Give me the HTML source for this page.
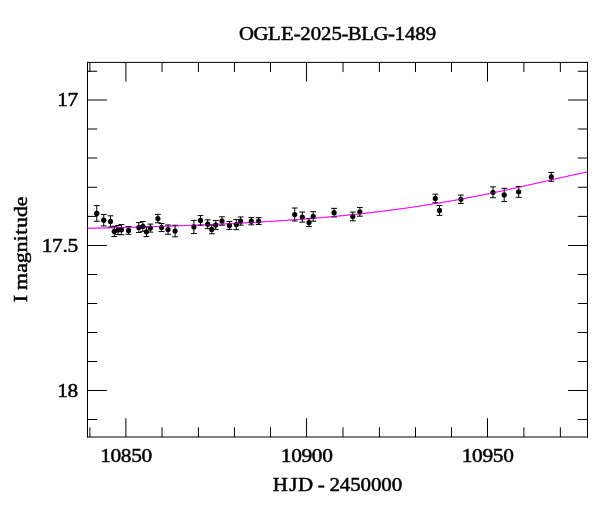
<!DOCTYPE html>
<html lang="en"><head><meta charset="utf-8"><title>OGLE-2025-BLG-1489</title>
<style>html,body{margin:0;padding:0;background:#fff}body{width:600px;height:512px;overflow:hidden}svg{display:block}text{font-family:"Liberation Serif", serif;font-size:19.6px;fill:#000;stroke:#000;stroke-width:0.5px}</style></head><body>
<svg width="600" height="512" viewBox="0 0 600 512">
<rect width="600" height="512" fill="#fff"/>
<path d="M89.9,62.4V72.1M89.9,437.0V427.3M125.9,62.4V81.6M125.9,437.0V418.2M162.05,62.4V72.1M162.05,437.0V427.3M198.45,62.4V72.1M198.45,437.0V427.3M234.45,62.4V72.1M234.45,437.0V427.3M270.5,62.4V72.1M270.5,437.0V427.3M306.55,62.4V81.6M306.55,437.0V418.2M343.0,62.4V72.1M343.0,437.0V427.3M379.4,62.4V72.1M379.4,437.0V427.3M415.5,62.4V72.1M415.5,437.0V427.3M451.5,62.4V72.1M451.5,437.0V427.3M487.5,62.4V81.6M487.5,437.0V418.2M523.9,62.4V72.1M523.9,437.0V427.3M560.35,62.4V72.1M560.35,437.0V427.3M87.5,71.25h9.7M587.5,71.25h-9.7M87.5,100.0h19.4M587.5,100.0h-19.4M87.5,129.0h9.7M587.5,129.0h-9.7M87.5,158.0h9.7M587.5,158.0h-9.7M87.5,187.25h9.7M587.5,187.25h-9.7M87.5,216.4h9.7M587.5,216.4h-9.7M87.5,245.5h19.4M587.5,245.5h-19.4M87.5,274.5h9.7M587.5,274.5h-9.7M87.5,303.5h9.7M587.5,303.5h-9.7M87.5,332.5h9.7M587.5,332.5h-9.7M87.5,361.5h9.7M587.5,361.5h-9.7M87.5,390.5h19.4M587.5,390.5h-19.4M87.5,419.5h9.7M587.5,419.5h-9.7" fill="none" stroke="#000" stroke-width="1.0"/>
<path d="M87.5,437.5V61.9M587.5,437.5V61.9M87.0,62.4H588.0M87.0,437.0H588.0" fill="none" stroke="#000" stroke-width="1"/>
<path d="M87.5,228.32 L92.5,228.21 L97.5,228.11 L102.5,227.99 L107.5,227.88 L112.5,227.76 L117.5,227.64 L122.5,227.51 L127.5,227.38 L132.5,227.25 L137.5,227.11 L142.5,226.97 L147.5,226.82 L152.5,226.67 L157.5,226.52 L162.5,226.36 L167.5,226.19 L172.5,226.02 L177.5,225.84 L182.5,225.66 L187.5,225.48 L192.5,225.29 L197.5,225.09 L202.5,224.88 L207.5,224.67 L212.5,224.46 L217.5,224.23 L222.5,224.00 L227.5,223.76 L232.5,223.52 L237.5,223.26 L242.5,223.00 L247.5,222.73 L252.5,222.45 L257.5,222.17 L262.5,221.87 L267.5,221.57 L272.5,221.25 L277.5,220.93 L282.5,220.59 L287.5,220.25 L292.5,219.89 L297.5,219.52 L302.5,219.14 L307.5,218.75 L312.5,218.35 L317.5,217.93 L322.5,217.50 L327.5,217.06 L332.5,216.61 L337.5,216.14 L342.5,215.65 L347.5,215.15 L352.5,214.64 L357.5,214.11 L362.5,213.56 L367.5,213.00 L372.5,212.42 L377.5,211.83 L382.5,211.22 L387.5,210.59 L392.5,209.94 L397.5,209.27 L402.5,208.59 L407.5,207.88 L412.5,207.16 L417.5,206.42 L422.5,205.66 L427.5,204.87 L432.5,204.07 L437.5,203.25 L442.5,202.41 L447.5,201.55 L452.5,200.67 L457.5,199.77 L462.5,198.85 L467.5,197.91 L472.5,196.95 L477.5,195.97 L482.5,194.97 L487.5,193.96 L492.5,192.93 L497.5,191.88 L502.5,190.82 L507.5,189.74 L512.5,188.65 L517.5,187.55 L522.5,186.43 L527.5,185.31 L532.5,184.18 L537.5,183.05 L542.5,181.91 L547.5,180.77 L552.5,179.63 L557.5,178.49 L562.5,177.36 L567.5,176.23 L572.5,175.12 L577.5,174.02 L582.5,172.94 L587.5,171.88" fill="none" stroke="#ff00ff" stroke-width="1"/>
<path d="M96.75,205.57V221.28M93.85,205.57h5.8M93.85,221.28h5.8M103.75,214.43V225.93M100.85,214.43h5.8M100.85,225.93h5.8M110.50,215.81V227.06M107.60,215.81h5.8M107.60,227.06h5.8M114.25,226.31V236.56M111.35,226.31h5.8M111.35,236.56h5.8M118.00,225.50V234.50M115.10,225.50h5.8M115.10,234.50h5.8M121.40,224.55V234.75M118.50,224.55h5.8M118.50,234.75h5.8M128.55,226.57V234.28M125.65,226.57h5.8M125.65,234.28h5.8M138.80,222.55V232.45M135.90,222.55h5.8M135.90,232.45h5.8M142.90,221.50V231.30M140.00,221.50h5.8M140.00,231.30h5.8M146.40,226.95V236.55M143.50,226.95h5.8M143.50,236.55h5.8M150.40,224.10V232.10M147.50,224.10h5.8M147.50,232.10h5.8M157.90,214.35V222.75M155.00,214.35h5.8M155.00,222.75h5.8M161.55,223.55V231.55M158.65,223.55h5.8M158.65,231.55h5.8M168.00,224.97V234.28M165.10,224.97h5.8M165.10,234.28h5.8M175.10,225.25V236.85M172.20,225.25h5.8M172.20,236.85h5.8M193.90,220.35V233.55M191.00,220.35h5.8M191.00,233.55h5.8M200.50,215.58V225.28M197.60,215.58h5.8M197.60,225.28h5.8M207.70,219.80V228.60M204.80,219.80h5.8M204.80,228.60h5.8M211.80,225.00V233.80M208.90,225.00h5.8M208.90,233.80h5.8M215.75,220.55V229.55M212.85,220.55h5.8M212.85,229.55h5.8M222.00,216.80V225.20M219.10,216.80h5.8M219.10,225.20h5.8M229.40,221.48V229.38M226.50,221.48h5.8M226.50,229.38h5.8M236.30,219.45V229.65M233.40,219.45h5.8M233.40,229.65h5.8M240.60,216.95V225.15M237.70,216.95h5.8M237.70,225.15h5.8M251.30,217.53V224.83M248.40,217.53h5.8M248.40,224.83h5.8M258.65,217.62V224.52M255.75,217.62h5.8M255.75,224.52h5.8M294.70,208.00V221.00M291.80,208.00h5.8M291.80,221.00h5.8M302.30,212.02V222.12M299.40,212.02h5.8M299.40,222.12h5.8M309.00,218.60V226.60M306.10,218.60h5.8M306.10,226.60h5.8M313.20,211.72V221.22M310.30,211.72h5.8M310.30,221.22h5.8M334.10,208.35V216.95M331.20,208.35h5.8M331.20,216.95h5.8M352.80,212.08V220.78M349.90,212.08h5.8M349.90,220.78h5.8M359.90,207.40V216.20M357.00,207.40h5.8M357.00,216.20h5.8M435.30,194.15V202.75M432.40,194.15h5.8M432.40,202.75h5.8M439.50,205.45V215.35M436.60,205.45h5.8M436.60,215.35h5.8M460.90,195.05V203.45M458.00,195.05h5.8M458.00,203.45h5.8M493.00,186.83V197.72M490.10,186.83h5.8M490.10,197.72h5.8M504.20,188.35V201.55M501.30,188.35h5.8M501.30,201.55h5.8M518.65,186.40V197.30M515.75,186.40h5.8M515.75,197.30h5.8M551.30,172.50V181.30M548.40,172.50h5.8M548.40,181.30h5.8" fill="none" stroke="#000" stroke-width="1"/>
<circle cx="96.75" cy="213.43" r="2.6" fill="#000"/>
<circle cx="103.75" cy="220.18" r="2.6" fill="#000"/>
<circle cx="110.50" cy="221.44" r="2.6" fill="#000"/>
<circle cx="114.25" cy="231.44" r="2.6" fill="#000"/>
<circle cx="118.00" cy="230.00" r="2.6" fill="#000"/>
<circle cx="121.40" cy="229.65" r="2.6" fill="#000"/>
<circle cx="128.55" cy="230.43" r="2.6" fill="#000"/>
<circle cx="138.80" cy="227.50" r="2.6" fill="#000"/>
<circle cx="142.90" cy="226.40" r="2.6" fill="#000"/>
<circle cx="146.40" cy="231.75" r="2.6" fill="#000"/>
<circle cx="150.40" cy="228.10" r="2.6" fill="#000"/>
<circle cx="157.90" cy="218.55" r="2.6" fill="#000"/>
<circle cx="161.55" cy="227.55" r="2.6" fill="#000"/>
<circle cx="168.00" cy="229.62" r="2.6" fill="#000"/>
<circle cx="175.10" cy="231.05" r="2.6" fill="#000"/>
<circle cx="193.90" cy="226.95" r="2.6" fill="#000"/>
<circle cx="200.50" cy="220.43" r="2.6" fill="#000"/>
<circle cx="207.70" cy="224.20" r="2.6" fill="#000"/>
<circle cx="211.80" cy="229.40" r="2.6" fill="#000"/>
<circle cx="215.75" cy="225.05" r="2.6" fill="#000"/>
<circle cx="222.00" cy="221.00" r="2.6" fill="#000"/>
<circle cx="229.40" cy="225.43" r="2.6" fill="#000"/>
<circle cx="236.30" cy="224.55" r="2.6" fill="#000"/>
<circle cx="240.60" cy="221.05" r="2.6" fill="#000"/>
<circle cx="251.30" cy="221.18" r="2.6" fill="#000"/>
<circle cx="258.65" cy="221.07" r="2.6" fill="#000"/>
<circle cx="294.70" cy="214.50" r="2.6" fill="#000"/>
<circle cx="302.30" cy="217.07" r="2.6" fill="#000"/>
<circle cx="309.00" cy="222.60" r="2.6" fill="#000"/>
<circle cx="313.20" cy="216.47" r="2.6" fill="#000"/>
<circle cx="334.10" cy="212.65" r="2.6" fill="#000"/>
<circle cx="352.80" cy="216.43" r="2.6" fill="#000"/>
<circle cx="359.90" cy="211.80" r="2.6" fill="#000"/>
<circle cx="435.30" cy="198.45" r="2.6" fill="#000"/>
<circle cx="439.50" cy="210.40" r="2.6" fill="#000"/>
<circle cx="460.90" cy="199.25" r="2.6" fill="#000"/>
<circle cx="493.00" cy="192.28" r="2.6" fill="#000"/>
<circle cx="504.20" cy="194.95" r="2.6" fill="#000"/>
<circle cx="518.65" cy="191.85" r="2.6" fill="#000"/>
<circle cx="551.30" cy="176.90" r="2.6" fill="#000"/>
<path d="M87.5,228.32 L92.5,228.21 L97.5,228.11 L102.5,227.99 L107.5,227.88 L112.5,227.76 L117.5,227.64 L122.5,227.51 L127.5,227.38 L132.5,227.25 L137.5,227.11 L142.5,226.97 L147.5,226.82 L152.5,226.67 L157.5,226.52 L162.5,226.36 L167.5,226.19 L172.5,226.02 L177.5,225.84 L182.5,225.66 L187.5,225.48 L192.5,225.29 L197.5,225.09 L202.5,224.88 L207.5,224.67 L212.5,224.46 L217.5,224.23 L222.5,224.00 L227.5,223.76 L232.5,223.52 L237.5,223.26 L242.5,223.00 L247.5,222.73 L252.5,222.45 L257.5,222.17 L262.5,221.87 L267.5,221.57 L272.5,221.25 L277.5,220.93 L282.5,220.59 L287.5,220.25 L292.5,219.89 L297.5,219.52 L302.5,219.14 L307.5,218.75 L312.5,218.35 L317.5,217.93 L322.5,217.50 L327.5,217.06 L332.5,216.61 L337.5,216.14 L342.5,215.65 L347.5,215.15 L352.5,214.64 L357.5,214.11 L362.5,213.56 L367.5,213.00 L372.5,212.42 L377.5,211.83 L382.5,211.22 L387.5,210.59 L392.5,209.94 L397.5,209.27 L402.5,208.59 L407.5,207.88 L412.5,207.16 L417.5,206.42 L422.5,205.66 L427.5,204.87 L432.5,204.07 L437.5,203.25 L442.5,202.41 L447.5,201.55 L452.5,200.67 L457.5,199.77 L462.5,198.85 L467.5,197.91 L472.5,196.95 L477.5,195.97 L482.5,194.97 L487.5,193.96 L492.5,192.93 L497.5,191.88 L502.5,190.82 L507.5,189.74 L512.5,188.65 L517.5,187.55 L522.5,186.43 L527.5,185.31 L532.5,184.18 L537.5,183.05 L542.5,181.91 L547.5,180.77 L552.5,179.63 L557.5,178.49 L562.5,177.36 L567.5,176.23 L572.5,175.12 L577.5,174.02 L582.5,172.94 L587.5,171.88" fill="none" stroke="#ff00ff" stroke-width="1" opacity="0.4"/>
<text transform="translate(337.60,40.45) scale(1.06,1)" x="-93.12 -79.43 -65.63 -53.41 -41.41 -35.22 -25.44 -15.66 -5.88 3.58 9.59 22.36 33.98 47.57 53.75 63.53 73.32 83.10" y="0">OGLE-2025-BLG-1489</text>
<text transform="translate(78.10,106.40) scale(1.09,1)" x="-19.17 -9.66" y="0">17</text>
<text transform="translate(78.10,251.90) scale(1.09,1)" x="-33.44 -23.93 -14.34 -9.66" y="0">17.5</text>
<text transform="translate(78.10,396.90) scale(1.09,1)" x="-19.17 -9.66" y="0">18</text>
<text transform="translate(126.20,462.35) scale(1.09,1)" x="-23.93 -14.41 -4.90 4.61 14.13" y="0">10850</text>
<text transform="translate(306.85,462.35) scale(1.09,1)" x="-23.93 -14.41 -4.90 4.61 14.13" y="0">10900</text>
<text transform="translate(487.80,462.35) scale(1.09,1)" x="-23.93 -14.41 -4.90 4.61 14.13" y="0">10950</text>
<text transform="translate(337.30,491.40) scale(1.07,1)" x="-60.37 -45.00 -36.64 -22.81 -18.30 -12.16 -7.34 2.35 12.04 21.73 31.42 41.11 50.81" y="0">HJD - 2450000</text>
<text transform="translate(27.00,249.60) rotate(-90) scale(1.15,1)" x="-45.83 -39.48 -35.06 -20.16 -11.83 -2.52 7.11 12.82 18.81 28.41 37.66" y="0" style="font-size:19.1px">I magnitude</text>
</svg></body></html>
